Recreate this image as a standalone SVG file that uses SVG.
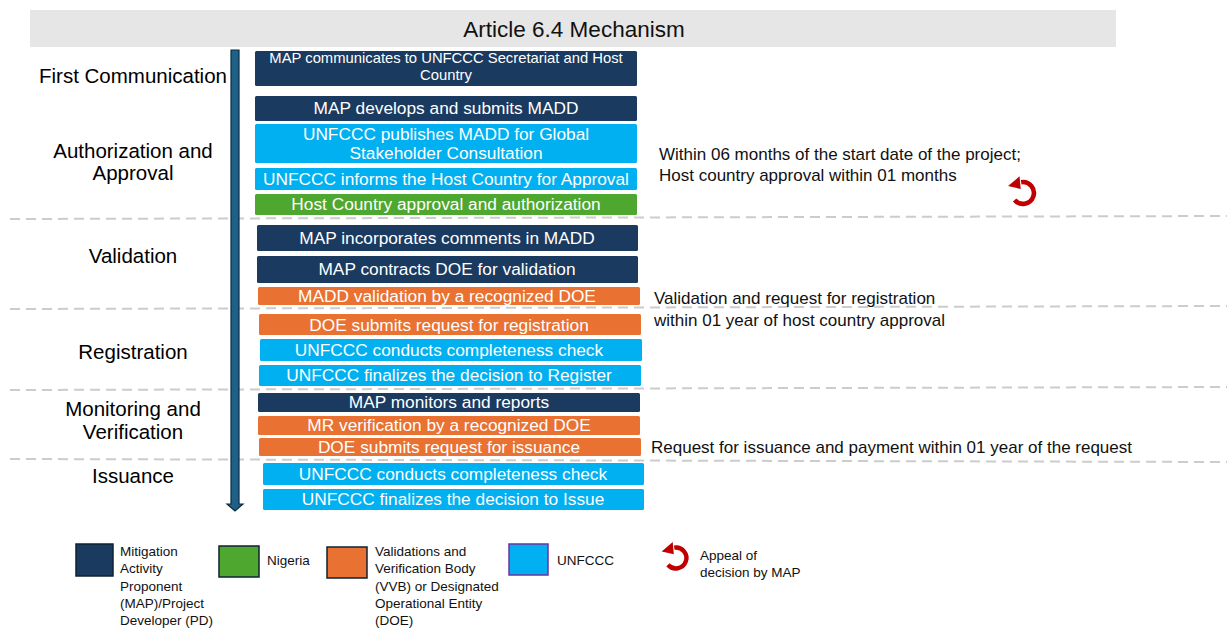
<svg xmlns="http://www.w3.org/2000/svg" width="1227" height="628" viewBox="0 0 1227 628">
<style>
text{font-family:"Liberation Sans",Arial,sans-serif}
.navy{fill:#1a3a5f}
.cyan{fill:#00b0f0}
.green{fill:#4ea72e}
.orange{fill:#e97132}
.bt{fill:#ffffff;font-size:17.3px;text-anchor:middle;dominant-baseline:central}
.lbl{fill:#000;font-size:20.5px;text-anchor:middle;dominant-baseline:central}
.note{fill:#111;font-size:17px}
.leg{fill:#111;font-size:13.5px}
.dash{stroke:#cccccc;stroke-width:2;stroke-dasharray:10 6;fill:none}
</style>
<defs>
<g id="appeal">
<path d="M-1.6,-9.4 A9.5,9.5 0 1 1 -7.3,6.1" fill="none" stroke="#c00000" stroke-width="4"/>
<polygon points="-13,-6 -3,-14.5 -2,-3.5" fill="#c00000"/>
</g>
</defs>
<rect x="30" y="10" width="1086" height="37" fill="#e6e6e6"/>
<text x="574" y="29" style="font-size:22.5px;text-anchor:middle;dominant-baseline:central;fill:#111">Article 6.4 Mechanism</text>
<g id="connectors">
<line class="dash" x1="10" y1="219" x2="1227" y2="216"/>
<line class="dash" x1="10" y1="309" x2="1227" y2="306"/>
<line class="dash" x1="10" y1="390" x2="1227" y2="387"/>
<line class="dash" x1="10" y1="459" x2="1227" y2="462"/>
<path d="M231,50 H239 V504 H243 L235,511 L227,504 H231 Z" fill="#1d6088" stroke="#0e2a40" stroke-width="1.2"/>
</g>
<g id="labels">
<text class="lbl" x="133" y="75">First Communication</text>
<text class="lbl" x="133" y="150">Authorization and</text>
<text class="lbl" x="133" y="172">Approval</text>
<text class="lbl" x="133" y="255">Validation</text>
<text class="lbl" x="133" y="351">Registration</text>
<text class="lbl" x="133" y="408">Monitoring and</text>
<text class="lbl" x="133" y="431">Verification</text>
<text class="lbl" x="133" y="475">Issuance</text>
</g>
<g id="b1"><rect class="navy" x="255" y="51" width="382" height="35" rx="1.5"/>
<text class="bt" x="446" y="58" style="font-size:14.8px">MAP communicates to UNFCCC Secretariat and Host</text>
<text class="bt" x="446" y="75" style="font-size:14.8px">Country</text></g>
<g id="b2"><rect class="navy" x="255" y="96" width="382" height="25" rx="1.5"/><text class="bt" x="446" y="108">MAP develops and submits MADD</text></g>
<g id="b3"><rect class="cyan" x="255" y="124" width="382" height="39" rx="1.5"/>
<text class="bt" x="446" y="134">UNFCCC publishes MADD for Global</text>
<text class="bt" x="446" y="153">Stakeholder Consultation</text></g>
<g id="b4"><rect class="cyan" x="255" y="168" width="382" height="22" rx="1.5"/><text class="bt" x="446" y="179">UNFCCC informs the Host Country for Approval</text></g>
<g id="b5"><rect class="green" x="255" y="194" width="382" height="21" rx="1.5"/><text class="bt" x="446" y="204">Host Country approval and authorization</text></g>
<g id="b6"><rect class="navy" x="257" y="225" width="381" height="26" rx="1.5"/><text class="bt" x="447" y="238">MAP incorporates comments in MADD</text></g>
<g id="b7"><rect class="navy" x="257" y="256" width="381" height="27" rx="1.5"/><text class="bt" x="447" y="269">MAP contracts DOE for validation</text></g>
<g id="b8"><rect class="orange" x="258" y="287" width="382" height="18" rx="1.5"/><text class="bt" x="447" y="296">MADD validation by a recognized DOE</text></g>
<g id="b9"><rect class="orange" x="259" y="314" width="382" height="21" rx="1.5"/><text class="bt" x="449" y="325">DOE submits request for registration</text></g>
<g id="b10"><rect class="cyan" x="260" y="339" width="382" height="22" rx="1.5"/><text class="bt" x="449" y="350">UNFCCC conducts completeness check</text></g>
<g id="b11"><rect class="cyan" x="259" y="365" width="382" height="21" rx="1.5"/><text class="bt" x="449" y="375">UNFCCC finalizes the decision to Register</text></g>
<g id="b12"><rect class="navy" x="258" y="393" width="382" height="19" rx="1.5"/><text class="bt" x="449" y="402">MAP monitors and reports</text></g>
<g id="b13"><rect class="orange" x="258" y="416" width="382" height="19" rx="1.5"/><text class="bt" x="449" y="425">MR verification by a recognized DOE</text></g>
<g id="b14"><rect class="orange" x="259" y="438" width="382" height="18" rx="1.5"/><text class="bt" x="449" y="447">DOE submits request for issuance</text></g>
<g id="b15"><rect class="cyan" x="263" y="463" width="381" height="22" rx="1.5"/><text class="bt" x="453" y="474">UNFCCC conducts completeness check</text></g>
<g id="b16"><rect class="cyan" x="263" y="489" width="381" height="21" rx="1.5"/><text class="bt" x="453" y="499">UNFCCC finalizes the decision to Issue</text></g>
<g id="notes">
<text class="note" x="659" y="160">Within 06 months of the start date of the project;</text>
<text class="note" x="659" y="181">Host country approval within 01 months</text>
<text class="note" x="654" y="304">Validation and request for registration</text>
<text class="note" x="654" y="326">within 01 year of host country approval</text>
<text class="note" x="651" y="453">Request for issuance and payment within 01 year of the request</text>
</g>
<g id="appeal-icon"><use href="#appeal" transform="translate(1023 193) scale(1.15)"/></g>
<g id="legend">
<rect x="76" y="544" width="37" height="32" fill="#1a3a5f" stroke="#0e2233" stroke-width="1.5"/>
<text class="leg" x="120" y="556">Mitigation</text>
<text class="leg" x="120" y="573">Activity</text>
<text class="leg" x="120" y="591">Proponent</text>
<text class="leg" x="120" y="608">(MAP)/Project</text>
<text class="leg" x="120" y="625">Developer (PD)</text>
<rect x="219" y="546" width="40" height="31" fill="#4ea72e" stroke="#0e2233" stroke-width="1.5"/>
<text class="leg" x="267" y="565">Nigeria</text>
<rect x="327" y="547" width="40" height="31" fill="#e97132" stroke="#0e2233" stroke-width="1.5"/>
<text class="leg" x="375" y="556">Validations and</text>
<text class="leg" x="375" y="573">Verification Body</text>
<text class="leg" x="375" y="591">(VVB) or Designated</text>
<text class="leg" x="375" y="608">Operational Entity</text>
<text class="leg" x="375" y="625">(DOE)</text>
<rect x="509" y="544" width="39" height="31" fill="#00b0f0" stroke="#7030a0" stroke-width="1.5"/>
<text class="leg" x="557" y="565">UNFCCC</text>
<use href="#appeal" transform="translate(676 558) scale(1.1)"/>
<text class="leg" x="700" y="560">Appeal of</text>
<text class="leg" x="700" y="577">decision by MAP</text>
</g>
</svg>
